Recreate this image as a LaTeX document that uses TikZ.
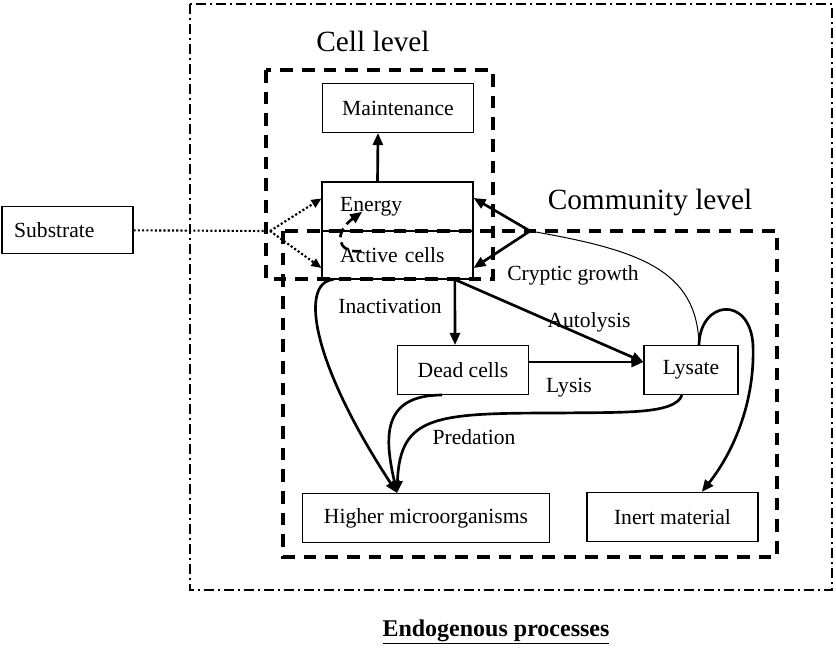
\documentclass[tikz,border=0pt]{standalone}
\usepackage{fontspec}
\setmainfont{Liberation Serif}
\usetikzlibrary{arrows.meta}

\begin{document}
\begin{tikzpicture}[x=0.75pt, y=-0.75pt,
	every node/.style={font=\fontsize{16.2}{19}\selectfont},
	>={Triangle[length=9pt, width=7.5pt]},
	box/.style={draw, line width=0.8pt, inner sep=0pt, minimum height=36.75pt},
	flow/.style={->, line width=2pt},
	dotflow/.style={line width=1.6pt, dash pattern=on 1.6pt off 1.6pt},
	levelframe/.style={line width=3pt, dash pattern=on 9.5pt off 6.75pt},
	leveltitle/.style={font=\fontsize{22}{26}\selectfont}]
	\useasboundingbox (0,0) rectangle (836,647);
	% frames
	\draw[line width=1.5pt, dash pattern=on 7.5pt off 3pt on 1.5pt off 3pt] (190,4) rectangle (832,590);
	\draw[levelframe] (266,70) rectangle (493,279);
	\draw[levelframe] (283,231) rectangle (777,557);
	\node[leveltitle] (celltitle) at (373,41) {Cell level};
	\node[leveltitle] (commtitle) at (650,202) {Community level};
	% boxes
	\node[box, minimum width=113.25pt] (maint) at (398,108) {Maintenance};
	\node[box, minimum width=113.25pt, text width=86pt, align=left, inner xsep=13.5pt] (energy) at (397.5,206.5) {Energy};
	\node[box, minimum width=113.25pt, text width=86pt, align=left, inner xsep=13.5pt, minimum height=36pt] (active) at (397.5,255) {Active cells};
	\node[box, minimum width=98.25pt, minimum height=35.25pt, text width=80pt, align=left, inner xsep=9pt] (substrate) at (67.5,230) {Substrate};
	\node[box, minimum width=98.25pt] (dead) at (463,370) {Dead cells};
	\node[box, minimum width=70.5pt] (lysate) at (691,370) {Lysate};
	\node[box, minimum width=185.25pt] (higher) at (426,518) {Higher microorganisms};
	\node[box, minimum width=128.25pt] (inert) at (672.5,517) {Inert material};
	% substrate uptake
	\coordinate (split) at (270,231);
	\draw[dotflow] (substrate) -- (split);
	\draw[dotflow, -{Triangle[length=7.5pt, width=6.5pt]}] (split) -- ([yshift=6pt]energy.west);
	\draw[dotflow, -{Triangle[length=7.5pt, width=6.5pt]}] (split) -- ([yshift=-9.75pt]active.west);
	\draw[flow] ([xshift=-15pt]energy.north) -- ([xshift=-15pt]maint.south);
	\draw[->, line width=2pt, dash pattern=on 7pt off 4pt] ([xshift=-27pt, yshift=3pt]active.center) .. controls (336,254) and (334,232) .. ([xshift=-26.5pt, yshift=-4pt]energy.center);
	% cryptic growth
	\coordinate (cg) at (530,231);
	\draw[line width=0.75pt] ([xshift=6pt]lysate.north) .. controls (697,270) and (640,250) .. (cg);
	\draw[flow] (cg) -- ([yshift=6.4pt]energy.east);
	\draw[flow] (cg) -- ([yshift=-9.75pt]active.east);
	\node (cryptic) at (573,275) {Cryptic growth};
	% decay
	\draw[flow] ([xshift=43pt]active.south) -- ([xshift=-6pt]dead.north);
	\draw[flow] ([xshift=43pt]active.south) -- ([yshift=6pt]lysate.west);
	\draw[flow] ([yshift=6pt]dead.east) -- ([yshift=6pt]lysate.west);
	\node (inact) at (390,306) {Inactivation};
	\node (autol) at (589,322) {Autolysis};
	\node (lysis) at (569,388) {Lysis};
	% predation
	\draw[flow] ([xshift=-48pt]active.south) .. controls (300,282) and (310,360) .. ([xshift=-21.75pt]higher.north);
	\draw[flow] ([xshift=-15.75pt]dead.south) .. controls (380,395) and (385,440) .. ([xshift=-21.75pt]higher.north);
	\draw[flow] ([xshift=-6.75pt]lysate.south) .. controls (675,415) and (620,412) .. (560,413) .. controls (435,413) and (400,415) .. ([xshift=-21.75pt]higher.north);
	\node (pred) at (474,437) {Predation};
	\draw[flow] ([xshift=6pt]lysate.north) .. controls (700,300) and (750,295) .. (753,345) .. controls (755,400) and (735,450) .. ([xshift=22pt]inert.north);
	\node[font=\fontsize{18}{22}\selectfont\bfseries] (endo) at (496,632) {\underline{Endogenous processes}};
\end{tikzpicture}
\end{document}
